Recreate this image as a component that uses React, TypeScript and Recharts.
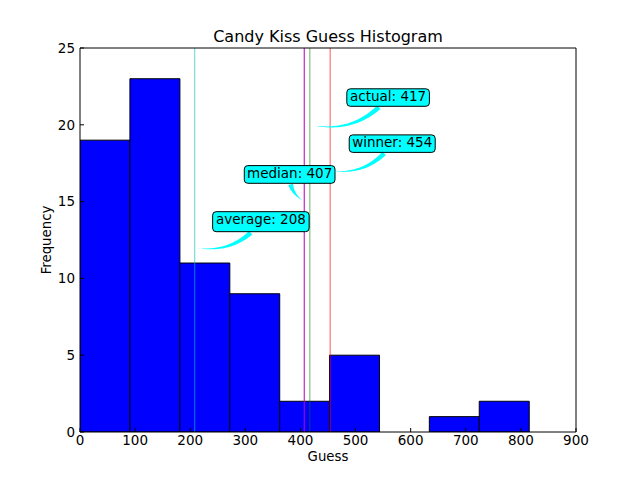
import React from 'react';
import { ComposedChart, Bar, XAxis, YAxis, ReferenceLine, ReferenceDot, Label } from 'recharts';

// ---- data ----
const binEdges = [0, 90.6, 181.1, 271.7, 362.2, 452.8, 543.3, 633.9, 724.4, 815];
const binCounts = [19, 23, 11, 9, 2, 5, 0, 1, 2];
const xTicks = [0, 100, 200, 300, 400, 500, 600, 700, 800, 900];
const yTicks = [0, 5, 10, 15, 20, 25];
const statNames = ['average', 'median', 'actual', 'winner'];
const statValues = [208, 407, 417, 454];
const statPointY = [12, 15, 20, 17];

const histData = binCounts.map((c, i) => ({
  mid: (binEdges[i] + binEdges[i + 1]) / 2,
  count: c,
}));

// ---- styles ----
const FONT = 'DejaVu Sans, sans-serif';
const LINE_STYLE = [
  { color: '#00bfbf', opacity: 0.5 },
  { color: '#bf00bf', opacity: 0.8 },
  { color: '#008000', opacity: 0.45 },
  { color: '#ff0000', opacity: 0.5 },
];
const ANN_STYLE = [
  { dx: 18, dy: -36, w: 96.5, h: 20, rad: 0.3 },
  { dx: -60, dy: -36, w: 90.7, h: 17.7, rad: -0.3 },
  { dx: 37, dy: -36, w: 82.6, h: 17.5, rad: 0.3 },
  { dx: 19, dy: -36, w: 86, h: 17.5, rad: 0.3 },
];

type Pt = { x: number; y: number };

function quad(a: Pt, c: Pt, b: Pt, t: number): Pt {
  const u = 1 - t;
  return {
    x: u * u * a.x + 2 * u * t * c.x + t * t * b.x,
    y: u * u * a.y + 2 * u * t * c.y + t * t * b.y,
  };
}

function Annotation(props: any) {
  const { cx, cy, idx } = props;
  if (cx == null || cy == null) return null;
  const st = ANN_STYLE[idx];
  const bx = cx + st.dx;
  const by = cy + st.dy;
  const A = { x: bx + st.w / 2, y: by + st.h / 2 };
  const B = { x: cx, y: cy };
  const ddx = B.x - A.x;
  const ddy = B.y - A.y;
  const C = { x: (A.x + B.x) / 2 + st.rad * ddy, y: (A.y + B.y) / 2 - st.rad * ddx };
  const N = 400;
  let t0 = 0;
  for (let i = 0; i <= N; i++) {
    const t = i / N;
    const p = quad(A, C, B, t);
    if (p.x < bx - 1 || p.x > bx + st.w + 1 || p.y < by - 1 || p.y > by + st.h + 1) {
      t0 = t;
      break;
    }
  }
  let t1 = 1;
  for (let i = N; i >= 0; i--) {
    const t = i / N;
    const p = quad(A, C, B, t);
    if (Math.hypot(p.x - B.x, p.y - B.y) >= 3) {
      t1 = t;
      break;
    }
  }
  const left: Pt[] = [];
  const right: Pt[] = [];
  const M = 40;
  for (let i = 0; i <= M; i++) {
    const t = t0 + ((t1 - t0) * i) / M;
    const p = quad(A, C, B, t);
    const pa = quad(A, C, B, Math.max(0, t - 0.001));
    const pb = quad(A, C, B, Math.min(1, t + 0.001));
    let tx = pb.x - pa.x;
    let ty = pb.y - pa.y;
    const L = Math.hypot(tx, ty) || 1;
    tx /= L;
    ty /= L;
    const hw = 2.4 * (1 - i / M);
    left.push({ x: p.x - ty * hw, y: p.y + tx * hw });
    right.push({ x: p.x + ty * hw, y: p.y - tx * hw });
  }
  const pts = left.concat(right.reverse());
  const d = 'M' + pts.map((p) => `${p.x.toFixed(2)},${p.y.toFixed(2)}`).join('L') + 'Z';
  return (
    <g>
      <path d={d} fill="#00ffff" stroke="none" />
      <rect x={bx} y={by} width={st.w} height={st.h} rx={3.5} ry={3.5} fill="#00ffff" stroke="#000" strokeWidth={1} />
      <text
        x={bx + st.w / 2}
        y={by + 12.6}
        textAnchor="middle"
        fontSize={13.5}
        fontFamily={FONT}
        fill="#000"
      >
        {`${statNames[idx]}: ${statValues[idx]}`}
      </text>
    </g>
  );
}

const tickStyle = { fill: '#000', fontSize: 13.5, fontFamily: FONT };

function FrequencyLabel(props: any) {
  const vb = props.viewBox || { x: 0, y: 48, width: 80, height: 384 };
  const x = vb.x + 51.4;
  const y = vb.y + vb.height / 2;
  return (
    <text x={x} y={y} transform={`rotate(-90 ${x} ${y})`} textAnchor="middle" fontSize={13.3} fontFamily={FONT} fill="#000">
      Frequency
    </text>
  );
}

export default function App() {
  return (
    <div style={{ position: 'absolute', left: 0, top: 0, width: 640, height: 480, background: '#fff', fontFamily: FONT }}>
      <ComposedChart
        width={640}
        height={480}
        data={histData}
        margin={{ top: 47, right: 63, bottom: 0, left: 0 }}
        barCategoryGap={0}
        barGap={0}
      >
        <XAxis
          xAxisId="bottom"
          dataKey="mid"
          type="number"
          domain={[0, 900]}
          ticks={xTicks}
          interval={0}
          allowDataOverflow
          height={48}
          orientation="bottom"
          tickSize={-4}
          tickMargin={7}
          tick={tickStyle}
          stroke="#000"
          axisLine={{ stroke: '#000' }}
          tickLine={{ stroke: '#000' }}
        >
          <Label value="Guess" position="insideBottom" offset={19} fontSize={13.3} fontFamily={FONT} fill="#000" />
        </XAxis>
        <XAxis
          xAxisId="top"
          dataKey="mid"
          type="number"
          domain={[0, 900]}
          ticks={xTicks}
          interval={0}
          allowDataOverflow
          height={1}
          orientation="top"
          tickSize={-4}
          tick={false}
          stroke="#000"
          axisLine={{ stroke: '#000' }}
          tickLine={{ stroke: '#000' }}
        >
          <Label value="Candy Kiss Guess Histogram" position="top" offset={5} fontSize={16} fontFamily={FONT} fill="#000" />
        </XAxis>
        <YAxis
          yAxisId="left"
          type="number"
          domain={[0, 25]}
          ticks={yTicks}
          interval={0}
          allowDataOverflow
          width={80}
          orientation="left"
          tickSize={-4}
          tickMargin={9}
          tick={tickStyle}
          stroke="#000"
          axisLine={{ stroke: '#000' }}
          tickLine={{ stroke: '#000' }}
        >
          <Label content={<FrequencyLabel />} />
        </YAxis>
        <YAxis
          yAxisId="right"
          type="number"
          domain={[0, 25]}
          ticks={yTicks}
          interval={0}
          allowDataOverflow
          width={1}
          orientation="right"
          tickSize={-4}
          tick={false}
          stroke="#000"
          axisLine={{ stroke: '#000' }}
          tickLine={{ stroke: '#000' }}
        />
        <Bar
          xAxisId="bottom"
          yAxisId="left"
          dataKey="count"
          fill="#0000ff"
          stroke="#000"
          strokeWidth={1}
          isAnimationActive={false}
        />
        {statValues.map((v, i) => (
          <ReferenceLine
            key={`line-${i}`}
            xAxisId="bottom"
            yAxisId="left"
            x={v}
            stroke={LINE_STYLE[i].color}
            strokeOpacity={LINE_STYLE[i].opacity}
            strokeWidth={1.3}
          />
        ))}
        {statValues.map((v, i) => (
          <ReferenceDot
            key={`ann-${i}`}
            xAxisId="bottom"
            yAxisId="left"
            x={v}
            y={statPointY[i]}
            r={0}
            ifOverflow="visible"
            shape={(p: any) => <Annotation {...p} idx={i} />}
          />
        ))}
      </ComposedChart>
    </div>
  );
}
